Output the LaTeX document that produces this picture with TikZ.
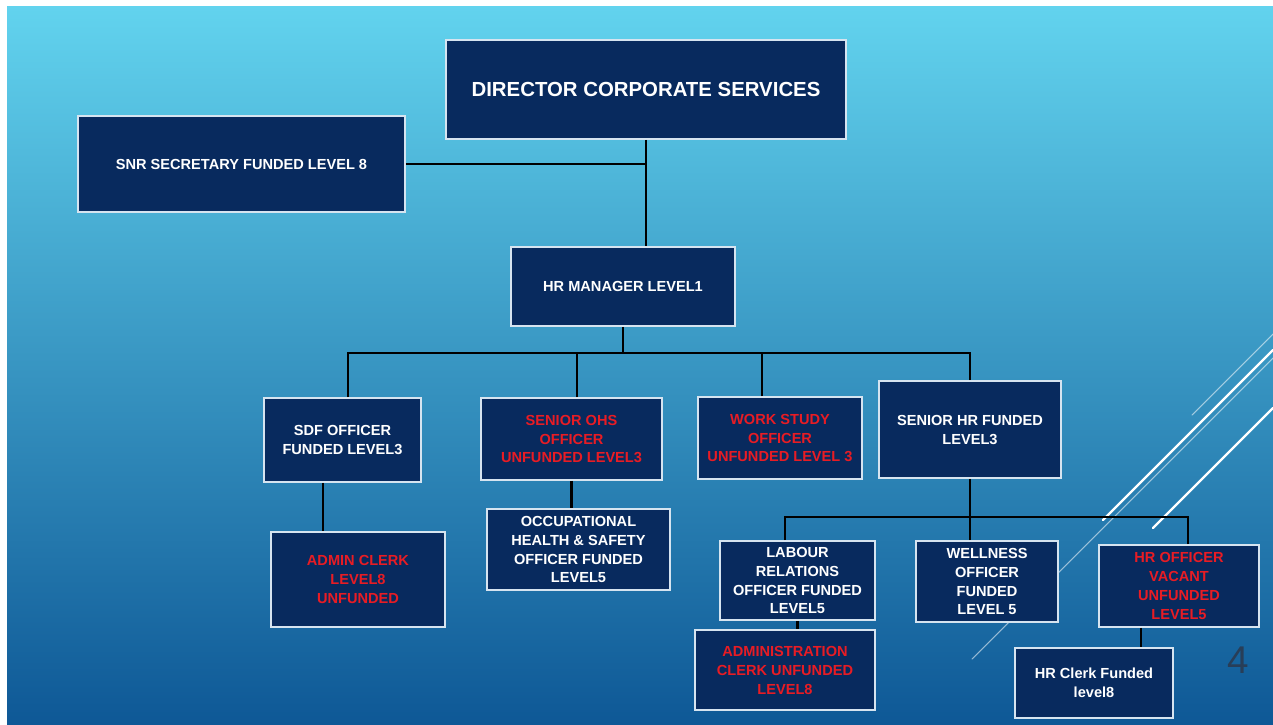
\documentclass[tikz,border=0pt]{standalone}
\usepackage{fontspec}
\setmainfont{Liberation Sans}
\usetikzlibrary{calc}
\definecolor{navy}{RGB}{8,42,94}
\definecolor{bgtop}{RGB}{98,211,238}
\definecolor{bgmid}{RGB}{44,152,204}
\definecolor{bgbot}{RGB}{14,88,150}
\definecolor{unfunded}{RGB}{232,28,36}
\definecolor{rim}{RGB}{214,228,240}
\definecolor{pagenum}{RGB}{40,62,88}
\tikzset{
  post/.style={draw=rim, line width=0.9pt, fill=navy, text=white, inner sep=0pt, align=center,
    font=\fontsize{8.3}{10.8}\selectfont\bfseries},
  vacant/.style={post, text=unfunded},
  link/.style={black, line width=1.4pt},
  streak/.style={white, line width=1.3pt, line cap=round},
  faint/.style={white, opacity=0.55, line width=0.6pt, line cap=round}
}

\begin{document}
\begin{tikzpicture}[x=0.02cm,y=-0.02cm]
\useasboundingbox (0,0) rectangle (1273,724);
\fill[white] (0,0) rectangle (1273,724);
\shade[top color=bgtop, middle color=bgmid, bottom color=bgbot] (7,6) rectangle (1273,724);
\draw[faint] (1192,415) -- (1273,334);
\draw[streak] (1103,520) -- (1273,350);
\draw[faint] (972,659) -- (1273,358);
\draw[streak] (1153,528) -- (1273,408);

\node[post, minimum width=8cm, minimum height=1.98cm, font=\fontsize{11.6}{14}\selectfont\bfseries] (dir) at (646,89.5) {DIRECTOR CORPORATE SERVICES};
\node[post, minimum width=6.54cm, minimum height=1.92cm] (snr) at (241.5,164) {SNR SECRETARY FUNDED LEVEL 8};
\node[post, minimum width=4.48cm, minimum height=1.58cm] (hrm) at (623,286.5) {HR MANAGER LEVEL1};
\node[post, minimum width=3.14cm, minimum height=1.68cm] (sdf) at (342.5,440) {SDF OFFICER\\FUNDED LEVEL3};
\node[vacant, minimum width=3.62cm, minimum height=1.64cm] (ohs) at (571.5,439) {SENIOR OHS\\OFFICER\\UNFUNDED LEVEL3};
\node[vacant, minimum width=3.28cm, minimum height=1.64cm] (wrk) at (780,438) {WORK STUDY\\OFFICER\\UNFUNDED LEVEL 3};
\node[post, minimum width=3.64cm, minimum height=1.94cm] (shr) at (970,429.5) {SENIOR HR FUNDED\\LEVEL3};
\node[vacant, minimum width=3.48cm, minimum height=1.9cm] (adm) at (358,579.5) {ADMIN CLERK\\LEVEL8\\UNFUNDED};
\node[post, minimum width=3.66cm, minimum height=1.62cm] (occ) at (578.5,549.5) {OCCUPATIONAL\\HEALTH \& SAFETY\\OFFICER FUNDED\\LEVEL5};
\node[post, minimum width=3.1cm, minimum height=1.58cm] (lab) at (797.5,580.5) {LABOUR\\RELATIONS\\OFFICER FUNDED\\LEVEL5};
\node[post, minimum width=2.84cm, minimum height=1.62cm] (wel) at (987,581.5) {WELLNESS\\OFFICER\\FUNDED\\LEVEL 5};
\node[vacant, minimum width=3.2cm, minimum height=1.64cm] (hro) at (1179,586) {HR OFFICER\\VACANT\\UNFUNDED\\LEVEL5};
\node[vacant, minimum width=3.6cm, minimum height=1.6cm] (acl) at (785,670) {ADMINISTRATION\\CLERK UNFUNDED\\LEVEL8};
\node[post, minimum width=3.16cm, minimum height=1.4cm] (hrc) at (1094,683) {HR Clerk Funded\\level8};
\node[text=pagenum, font=\fontsize{22}{24}\selectfont] (pg) at (1238,660) {4};

\draw[link] (dir.south) -- (dir.south |- hrm.north);
\draw[link] (snr.east) -- (snr.east -| dir.south);
\draw[link] (hrm.south) -- ++(0,26) coordinate (b1);
\draw[link] ([xshift=0.11cm]sdf.north) |- (b1);
\draw[link] ([xshift=0.11cm]ohs.north) |- (b1);
\draw[link] ([xshift=-0.36cm]wrk.north) |- (b1);
\draw[link] (shr.north) |- (b1);
\draw[link] (shr.south) -- ++(0,38) coordinate (b2);
\draw[link] ([xshift=-0.25cm]lab.north) |- (b2);
\draw[link] ([xshift=-0.34cm]wel.north) |- (b2);
\draw[link] ([xshift=0.18cm]hro.north) |- (b2);
\draw[link] ([xshift=-0.39cm]sdf.south) coordinate (s1) -- (s1 |- adm.north);
\draw[link] (ohs.south) -- (ohs.south |- occ.north);
\draw[link] (lab.south) -- (lab.south |- acl.north);
\draw[link] ([xshift=-0.76cm]hro.south) coordinate (s2) -- (s2 |- hrc.north);
\end{tikzpicture}
\end{document}
